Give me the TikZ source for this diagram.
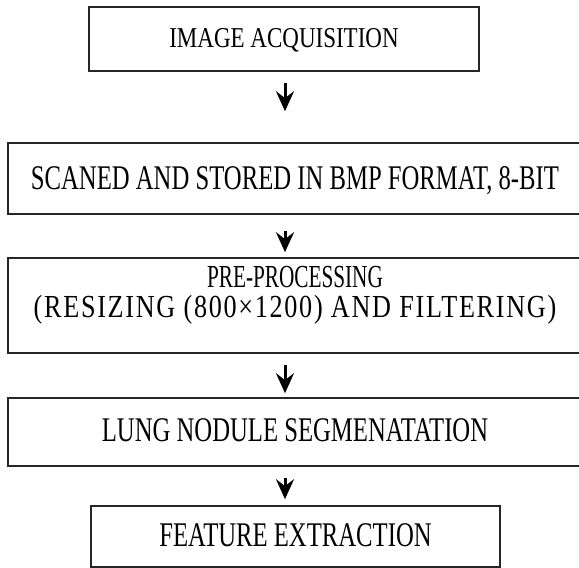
\documentclass[tikz,border=0pt]{standalone}
\usepackage{fontspec}
\setmainfont{Liberation Serif}
\usetikzlibrary{arrows.meta}
\newcommand\vstretch[2]{\scalebox{1}[#1]{#2}}
\begin{document}
\begin{tikzpicture}[x=1pt,y=1pt,
  box/.style={draw=black!85, line width=1.6pt, inner sep=0pt, font=\fontsize{24.7}{22}\selectfont},
  widebox/.style={box, minimum width=574pt},
  flow/.style={line width=3pt, -{Stealth[length=20pt,width=18pt,inset=7pt]}}
]
\useasboundingbox (0,0) rectangle (579,568);
\clip (0,0) rectangle (579,568);
\coordinate (ax) at (285,0);
\node[box, minimum width=390pt, minimum height=64pt, text height=18pt, text depth=0pt,
      font=\fontsize{23}{22}\selectfont] (b1) at (284,529) {\vstretch{1.25}{IMAGE ACQUISITION}};
\node[widebox, minimum height=71pt, text height=23pt, text depth=0pt] (b2) at (295,389.5)
      {\vstretch{1.4}{SCANED AND STORED IN BMP FORMAT, 8-BIT}};
\node[widebox, minimum height=95pt, text height=0pt, text depth=35pt] (b3) at (295,262.5)
      {\begin{tabular}[t]{@{}c@{}}\scalebox{0.86}[1.3]{PRE-PROCESSING}\\[1pt]
        \scalebox{1.06}[1.3]{\addfontfeature{LetterSpace=6.5}(RESIZING (800×1200) AND FILTERING)}\end{tabular}};
\node[widebox, minimum height=68pt, text height=20pt, text depth=0pt] (b4) at (295,136)
      {\vstretch{1.4}{LUNG NODULE SEGMENATATION}};
\node[box, minimum width=409pt, minimum height=61pt, text height=21pt, text depth=0pt] (b5) at (295.5,31.5)
      {\vstretch{1.4}{FEATURE EXTRACTION}};
\draw[flow, shorten <=11pt, shorten >=31pt] (b1.south -| ax) -- (b2.north -| ax);
\draw[flow, shorten <=16pt, shorten >=5pt] (b2.south -| ax) -- (b3.north -| ax);
\draw[flow, shorten <=11pt, shorten >=4pt] (b3.south -| ax) -- (b4.north -| ax);
\draw[flow, shorten <=11pt, shorten >=6pt] (b4.south -| ax) -- (b5.north -| ax);
\end{tikzpicture}
\end{document}
